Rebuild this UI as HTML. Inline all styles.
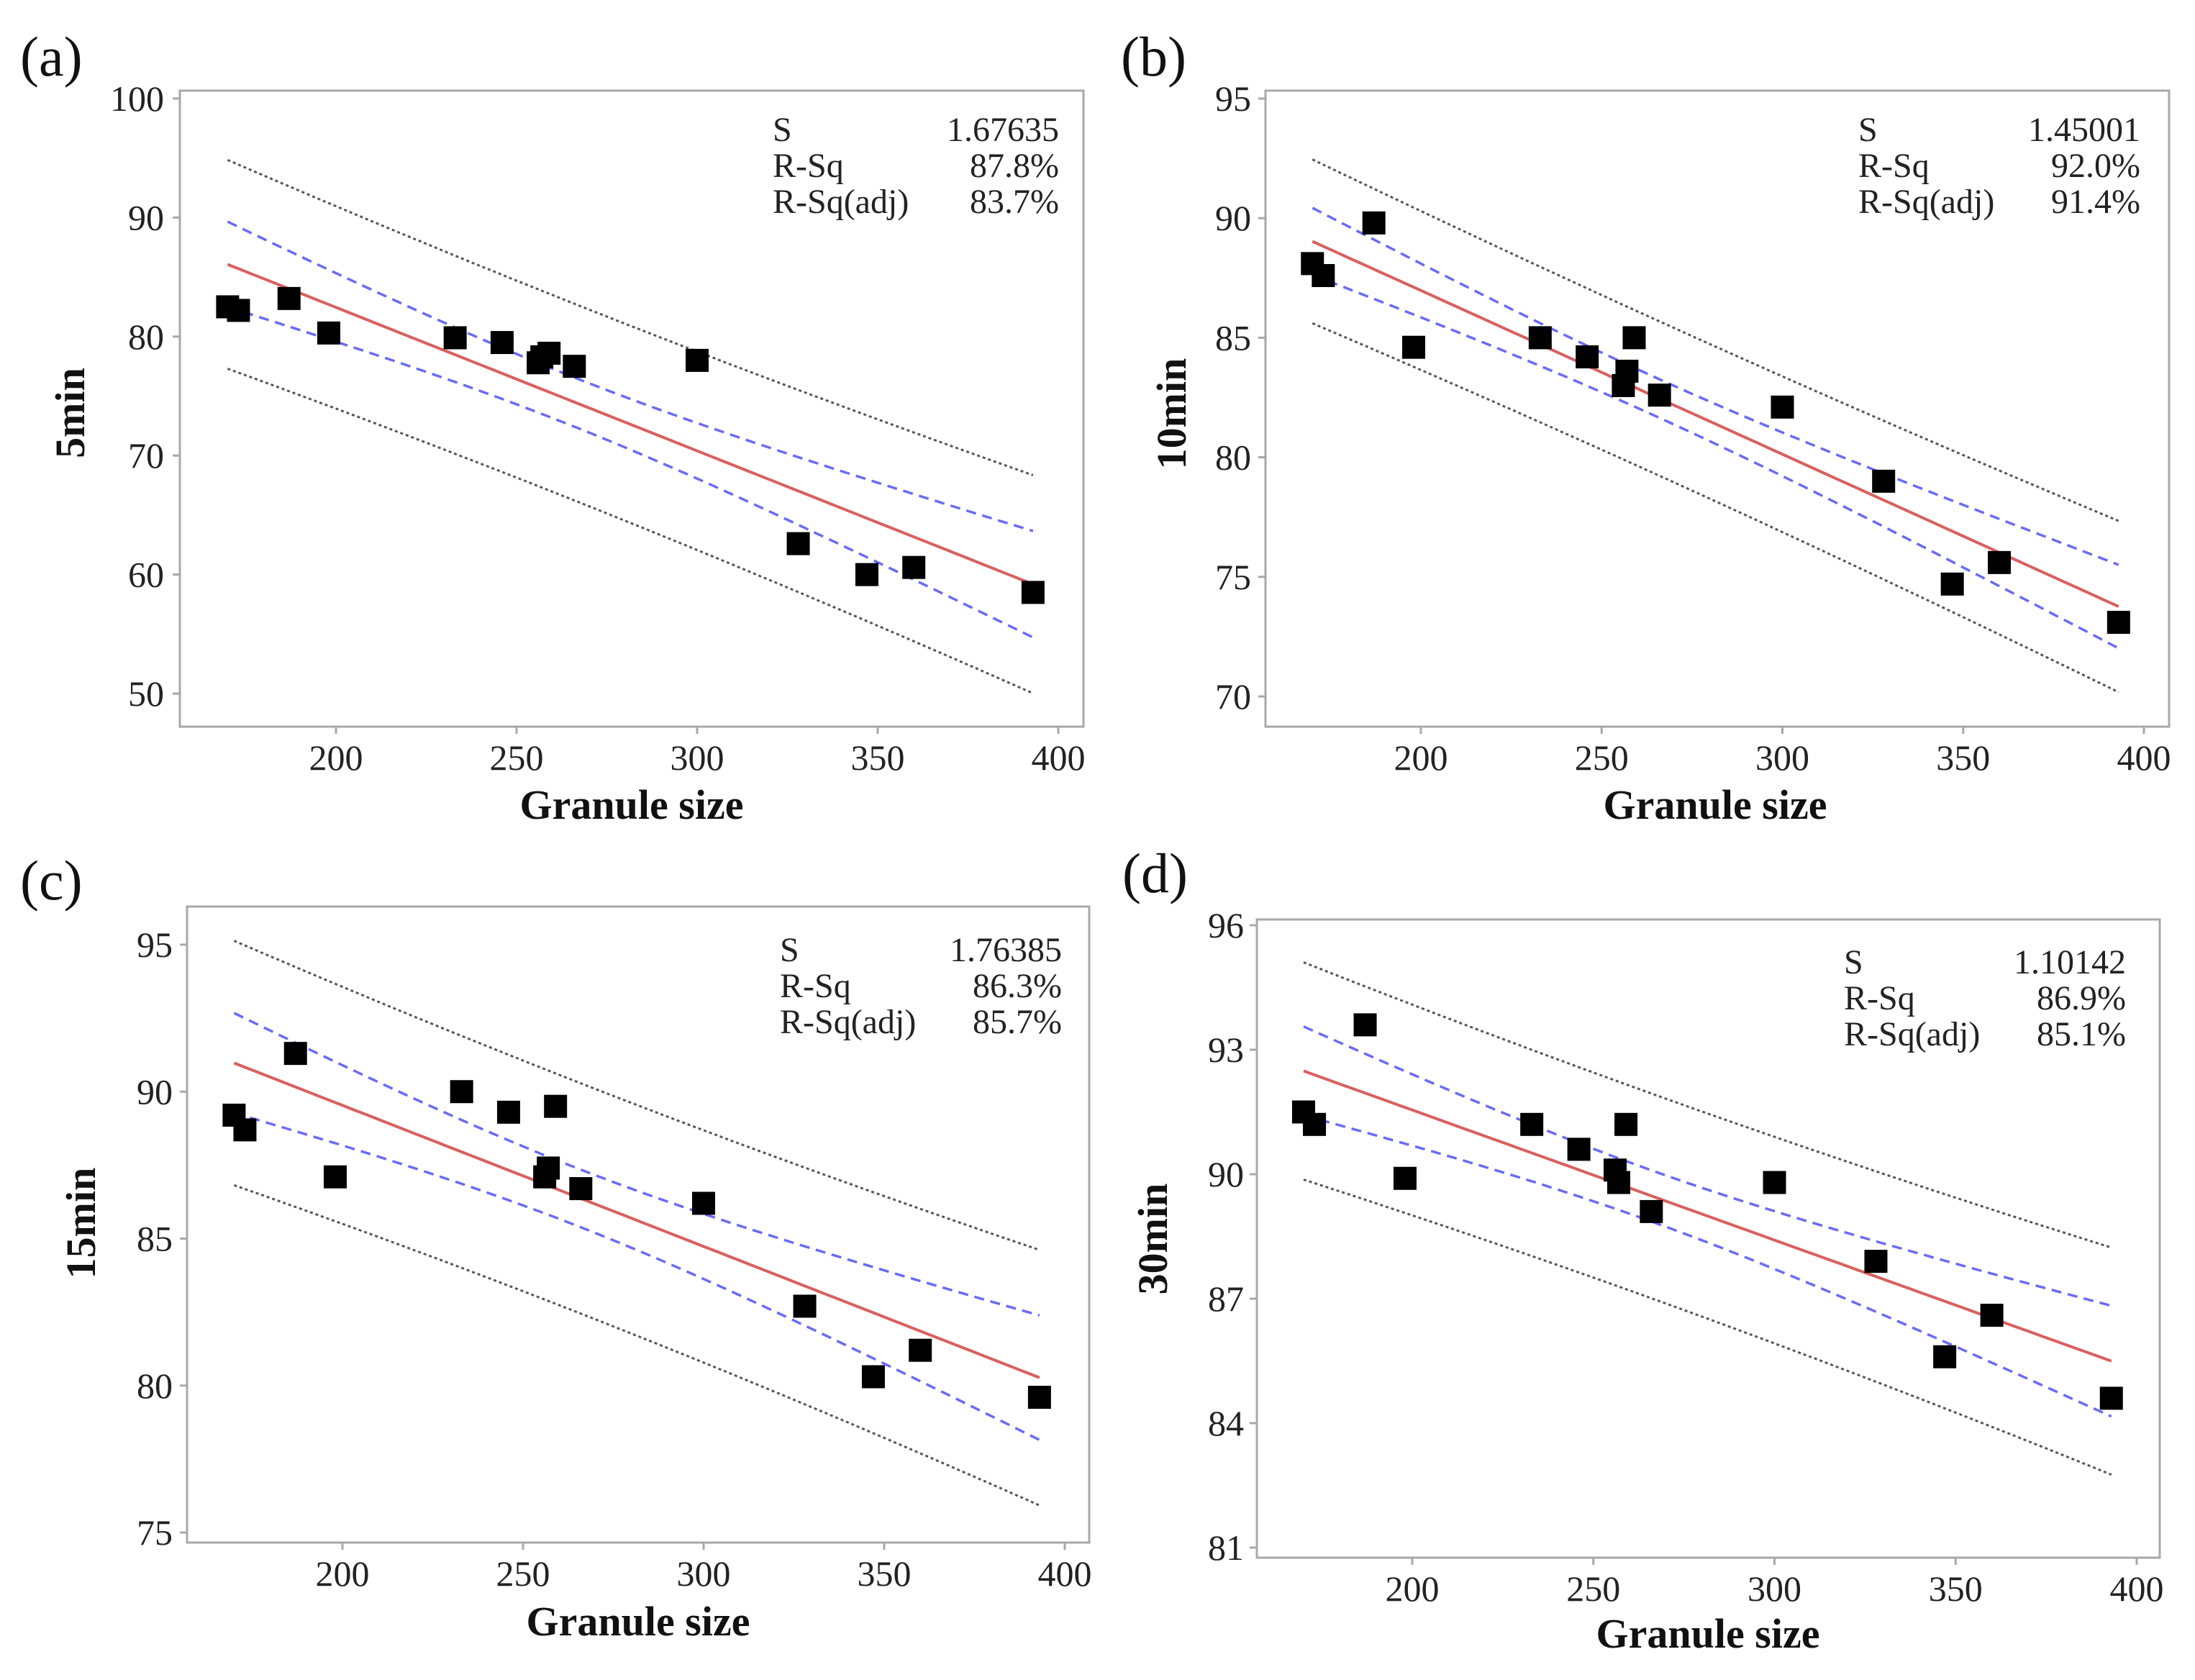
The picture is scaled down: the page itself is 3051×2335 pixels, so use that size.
<!DOCTYPE html>
<html><head><meta charset="utf-8"><style>
html,body{margin:0;padding:0;background:#fff;}
svg{display:block;}
svg text{font-family:"Liberation Serif","Times New Roman",serif;}
</style></head><body>
<svg id="fig" width="3051" height="2335" viewBox="0 0 3051 2335" xmlns="http://www.w3.org/2000/svg" font-family="Liberation Serif, serif"></svg>
<script>
// Shared x data (granule size)
const granuleSize = [170,173,187,198,233,246,256,257,259,266,300,328,347,360,393];
// Series values per panel
const y5min  = [82.5,82.2,83.2,80.3,79.9,79.5,77.8,78.3,78.6,77.5,78.0,62.6,60.0,60.6,58.5];
const y10min = [88.1,87.6,89.8,84.6,85.0,84.2,83.0,83.6,85.0,82.6,82.1,79.0,74.7,75.6,73.1];
const y15min = [89.2,88.7,91.3,87.1,90.0,89.3,87.1,87.4,89.5,86.7,86.2,82.7,80.3,81.2,79.6];
const y30min = [91.5,91.2,93.6,89.9,91.2,90.6,90.1,89.8,91.2,89.1,89.8,87.9,85.6,86.6,84.6];
// Tick labels
const xTicks = [200,250,300,350,400];
const yTicksA = [50,60,70,80,90,100];
const yTicksB = [70,75,80,85,90,95];
const yTicksC = [75,80,85,90,95];
const yTicksD = [81,84,87,90,93,96];
// Printed statistics
const statsA = ["1.67635","87.8%","83.7%"];
const statsB = ["1.45001","92.0%","91.4%"];
const statsC = ["1.76385","86.3%","85.7%"];
const statsD = ["1.10142","86.9%","85.1%"];
const statNames = ["S","R-Sq","R-Sq(adj)"];

const NS="http://www.w3.org/2000/svg";
const svg=document.getElementById('fig');
function el(tag,attrs,parent){const e=document.createElementNS(NS,tag);for(const k in attrs)e.setAttribute(k,attrs[k]);if(tag==='text')e.setAttribute('font-family','Liberation Serif, serif');(parent||svg).appendChild(e);return e;}

const panels=[
 {id:'a',letter:'(a)',lx:28,ly:105,ys:y5min,yt:yTicksA,stats:statsA,title:'5min',
  fx0:250,fx1:1506,fy0:126,fy1:1010, x200:467,x400:1471, yv0:50,yp0:964,yv1:100,yp1:137,
  tlx:98,tly:574, xtx:878,xty:1138, sx:1074,sr:1472,sy:196, tickR:228},
 {id:'b',letter:'(b)',lx:1558,ly:105,ys:y10min,yt:yTicksB,stats:statsB,title:'10min',
  fx0:1759,fx1:3015,fy0:126,fy1:1010, x200:1975,x400:2980, yv0:70,yp0:968,yv1:95,yp1:137,
  tlx:1629,tly:575, xtx:2384,xty:1138, sx:2583,sr:2975,sy:196, tickR:1739},
 {id:'c',letter:'(c)',lx:28,ly:1250,ys:y15min,yt:yTicksC,stats:statsC,title:'15min',
  fx0:260,fx1:1514,fy0:1260,fy1:2144, x200:476,x400:1480, yv0:75,yp0:2130,yv1:95,yp1:1313,
  tlx:113,tly:1700, xtx:887,xty:2273, sx:1084,sr:1476,sy:1336, tickR:240},
 {id:'d',letter:'(d)',lx:1560,ly:1240,ys:y30min,yt:yTicksD,stats:statsD,title:'30min',
  fx0:1747,fx1:3002,fy0:1278,fy1:2165, x200:1963,x400:2970, yv0:81,yp0:2151,yv1:96,yp1:1286,
  tlx:1603,tly:1722, xtx:2374,xty:2290, sx:2563,sr:2955,sy:1353, tickR:1729}
];

panels.forEach(p=>{
  const g=el('g',{});
  
  
  const X=v=>p.x200+(v-200)*(p.x400-p.x200)/200;
  const Y=v=>p.yp0+(v-p.yv0)*(p.yp1-p.yp0)/(p.yv1-p.yv0);

  const lt=el('text',{x:p.lx,y:p.ly,'font-size':78,fill:'#111'},g);lt.textContent=p.letter;
  
  

  const fr=el('rect',{x:p.fx0,y:p.fy0,width:p.fx1-p.fx0,height:p.fy1-p.fy0,fill:'none',stroke:'#a8a8a8','stroke-width':3},g);
  
  

  p.yt.forEach(t=>{
    const yy=Y(t);
    const tk=el('line',{x1:p.fx0-10,x2:p.fx0,y1:yy,y2:yy,stroke:'#a8a8a8','stroke-width':3},g);
    
    
    const tx=el('text',{x:p.tickR,y:yy+17,'font-size':50,'text-anchor':'end',fill:'#222'},g);tx.textContent=t;
    
    
  });
  xTicks.forEach(t=>{
    const xx=X(t);
    const tk=el('line',{x1:xx,x2:xx,y1:p.fy1,y2:p.fy1+10,stroke:'#a8a8a8','stroke-width':3},g);
    
    
    const tx=el('text',{x:xx,y:p.fy1+60,'font-size':50,'text-anchor':'middle',fill:'#222'},g);tx.textContent=t;
    
    
  });

  const xt=el('text',{x:p.xtx,y:p.xty,'font-size':58,'font-weight':'bold','text-anchor':'middle',fill:'#111'},g);xt.textContent='Granule size';
  
  
  const yt=el('text',{x:0,y:0,'font-size':58,'font-weight':'bold','text-anchor':'middle',fill:'#111',transform:`translate(${p.tlx+19},${p.tly}) rotate(-90)`},g);yt.textContent=p.title;
  
  

  statNames.forEach((n,i)=>{
    const a=el('text',{x:p.sx,y:p.sy+i*50,'font-size':48,fill:'#222'},g);a.textContent=n;
    
    
    const b=el('text',{x:p.sr,y:p.sy+i*50,'font-size':48,'text-anchor':'end',fill:'#222'},g);b.textContent=p.stats[i];
    
    
  });

  // regression with 95% CI / PI computed from the data
  const xs=granuleSize, ys=p.ys, n=xs.length;
  const mx=xs.reduce((a,b)=>a+b,0)/n, my=ys.reduce((a,b)=>a+b,0)/n;
  let sxx=0,sxy=0;for(let i=0;i<n;i++){sxx+=(xs[i]-mx)**2;sxy+=(xs[i]-mx)*(ys[i]-my);}
  const b1=sxy/sxx,b0=my-b1*mx;
  let sse=0;for(let i=0;i<n;i++)sse+=(ys[i]-b0-b1*xs[i])**2;
  const s=Math.sqrt(sse/(n-2)), tv=2.160;
  const xmin=Math.min(...xs),xmax=Math.max(...xs);
  const curve=(f)=>{let d='';for(let k=0;k<=60;k++){const x=xmin+(xmax-xmin)*k/60;d+=(k?'L':'M')+X(x).toFixed(1)+' '+Y(f(x)).toFixed(1);}return d;};
  const fit=x=>b0+b1*x;
  const ci=x=>tv*s*Math.sqrt(1/n+(x-mx)**2/sxx);
  const pi=x=>tv*s*Math.sqrt(1+1/n+(x-mx)**2/sxx);
  const defs=[
    ['pi-upper',x=>fit(x)+pi(x),'#555','4 4',3],
    ['pi-lower',x=>fit(x)-pi(x),'#555','4 4',3],
    ['ci-upper',x=>fit(x)+ci(x),'#6b6bf5','14 9',3.5],
    ['ci-lower',x=>fit(x)-ci(x),'#6b6bf5','14 9',3.5],
    ['fit-line',fit,'#d9605e','none',4]];
  defs.forEach(([nm,f,c,da,w])=>{
    const pa=el('path',{d:curve(f),fill:'none',stroke:c,'stroke-width':w,'stroke-dasharray':da},g);
    
    
  });
  for(let i=0;i<n;i++){
    const r=el('rect',{x:X(xs[i])-16,y:Y(ys[i])-16,width:32,height:32,fill:'#000'},g);
    
    
  }
});
</script>
</body></html>
